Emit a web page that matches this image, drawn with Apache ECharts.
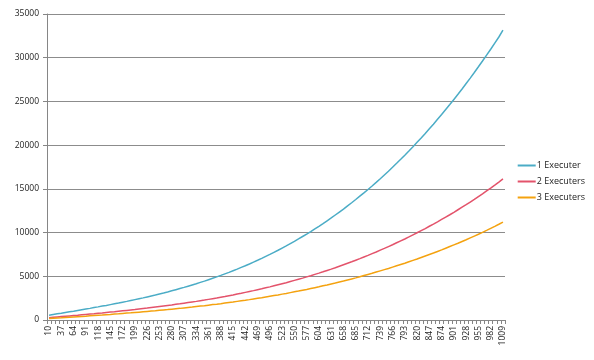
<!DOCTYPE html>
<html><head><meta charset="utf-8">
<script src="https://cdn.jsdelivr.net/npm/echarts@6/dist/echarts.min.js"></script>
<style>html,body{margin:0;padding:0;background:#fff}#c{width:594px;height:360px}</style>
</head><body><div id="c"></div>
<script>
var categories = [];
for (var k = 10; k <= 1009; k += 9) categories.push(String(k));

var seriesNames = ['1 Executer', '2 Executers', '3 Executers'];

var exec1 = [550,630,710,780,860,940,1010,1090,1170,1250,1330,1420,1500,1590,1670,1760,1850,1940,2040,2130,2230,2330,2430,2530,2640,2750,2860,2980,3090,3210,3340,3470,3600,3730,3870,4010,4150,4300,4450,4610,4770,4930,5100,5280,5450,5640,5820,6020,6210,6410,6620,6830,7050,7280,7500,7740,7980,8230,8480,8740,9000,9270,9550,9830,10120,10420,10720,11030,11350,11670,12010,12350,12690,13050,13410,13780,14160,14540,14930,15330,15740,16160,16590,17020,17470,17920,18380,18850,19330,19820,20320,20820,21340,21870,22400,22950,23500,24070,24640,25230,25820,26430,27050,27670,28310,28960,29620,30290,30970,31670,32370,33160];
var exec2 = [270,310,350,390,430,470,510,550,600,640,680,720,770,810,860,910,950,1000,1050,1100,1150,1200,1260,1310,1360,1420,1480,1540,1600,1660,1720,1790,1850,1920,1990,2060,2130,2210,2280,2360,2440,2520,2610,2690,2780,2870,2970,3060,3160,3260,3360,3470,3570,3680,3790,3910,4030,4150,4270,4400,4530,4660,4790,4930,5070,5220,5360,5510,5670,5820,5980,6150,6320,6490,6660,6840,7020,7210,7390,7590,7780,7990,8190,8400,8610,8830,9050,9270,9500,9740,9980,10220,10460,10720,10970,11230,11500,11770,12040,12320,12610,12900,13190,13490,13790,14110,14430,14760,15090,15430,15780,16150];
var exec3 = [160,190,220,250,290,320,350,380,410,440,480,510,540,570,610,640,680,710,750,790,820,860,900,940,980,1020,1060,1110,1150,1190,1240,1290,1330,1380,1430,1480,1540,1590,1640,1700,1760,1810,1870,1940,2000,2060,2130,2200,2260,2330,2410,2480,2550,2630,2710,2790,2870,2960,3040,3130,3220,3310,3410,3500,3600,3700,3800,3910,4010,4120,4230,4350,4460,4580,4700,4820,4950,5080,5210,5340,5480,5620,5760,5900,6050,6200,6350,6500,6660,6820,6980,7150,7320,7490,7660,7840,8020,8210,8400,8590,8780,8980,9180,9390,9600,9810,10030,10250,10480,10710,10950,11200];

var colors = ['#4bacc6', '#e3536b', '#f4a20f'];
var yTicks = {min: 0, max: 35000, interval: 5000};

var chart = echarts.init(document.getElementById('c'));
var labelFont = {fontFamily: 'Open Sans, Liberation Sans, sans-serif', color: '#222'};
chart.setOption({
  animation: false,
  color: colors,
  grid: {left: 47, right: 89, top: 14, bottom: 40},
  legend: {
    orient: 'vertical', right: 4, top: 156, itemGap: 7,
    icon: 'rect', itemWidth: 18, itemHeight: 2,
    textStyle: {fontSize: 9, fontFamily: 'Open Sans, Liberation Sans, sans-serif', color: '#222', padding: [0,0,0,-4]},
    data: seriesNames
  },
  xAxis: {
    type: 'category', data: categories, boundaryGap: true,
    axisLine: {lineStyle: {color: '#868686', width: 1}},
    axisTick: {show: true, interval: 0, length: 4, lineStyle: {color: '#868686'}},
    axisLabel: Object.assign({interval: 2, rotate: 90, fontSize: 8.5, margin: 6}, labelFont),
    splitLine: {show: false}
  },
  yAxis: {
    type: 'value', min: yTicks.min, max: yTicks.max, interval: yTicks.interval,
    axisLine: {show: true, lineStyle: {color: '#868686', width: 1}},
    axisTick: {show: true, length: 4, lineStyle: {color: '#868686'}},
    axisLabel: Object.assign({fontSize: 8.5, margin: 8, formatter: function (v) { return String(v); }}, labelFont),
    splitLine: {lineStyle: {color: '#8c8c8c', width: 1}}
  },
  series: [
    {name: seriesNames[0], type: 'line', data: exec1, showSymbol: false, lineStyle: {width: 1.5}},
    {name: seriesNames[1], type: 'line', data: exec2, showSymbol: false, lineStyle: {width: 1.5}},
    {name: seriesNames[2], type: 'line', data: exec3, showSymbol: false, lineStyle: {width: 1.5}}
  ]
});
</script>
</body></html>
